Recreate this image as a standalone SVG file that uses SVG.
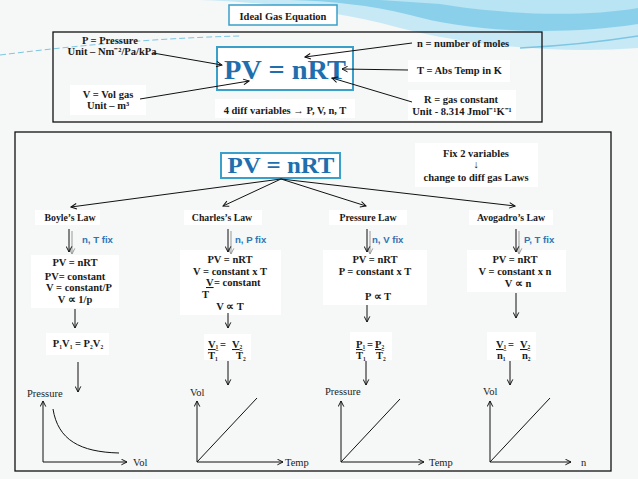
<svg xmlns="http://www.w3.org/2000/svg" width="638" height="479" viewBox="0 0 638 479">
<defs>
<style>
.b{font-family:"Liberation Serif",serif;font-weight:bold;font-size:10.5px;fill:#1a1a1a}
.lw{font-size:9.8px}
.r{font-family:"Liberation Serif",serif;font-size:10.5px;fill:#222}
.fix{font-family:"Liberation Sans",Arial,sans-serif;font-weight:bold;font-size:9.6px;fill:#2e75b6}
.pv{font-family:"Liberation Serif",serif;font-weight:bold;fill:#1f6fae}
.pvbox{fill:#fff;stroke:#3a9fc9;stroke-width:2}
.bg{fill:#fff}
.ln{stroke:#111;stroke-width:1;fill:none}
.frame{fill:none;stroke:#111;stroke-width:1.3}
.s{font-size:5.5px}
</style>
<marker id="v" viewBox="0 0 10 10" refX="9" refY="5" markerWidth="7" markerHeight="7" markerUnits="userSpaceOnUse" orient="auto">
<path d="M1,1 L9,5 L1,9" fill="none" stroke="#111" stroke-width="1.4"/>
</marker>
<marker id="vg" viewBox="0 0 10 10" refX="9" refY="5" markerWidth="7" markerHeight="7" markerUnits="userSpaceOnUse" orient="auto">
<path d="M1,1 L9,5 L1,9" fill="none" stroke="#999" stroke-width="1.4"/>
</marker>
</defs>
<rect width="638" height="479" fill="#f6f7f7"/>
<!-- background swoosh -->
<path d="M200,0 L638,0 L638,48 C560,54 470,46 400,28 C340,12 270,2 200,0 Z" fill="#c6e9f5"/>
<path d="M290,0 L638,0 L638,24 C560,36 470,32 410,15 C370,5 330,1 290,0 Z" fill="#8bd0ea"/>
<path d="M380,0 L638,0 L638,8 C580,18 500,14 440,4 Z" fill="#b8e4f3"/>
<path d="M0,55 C80,45 160,38 240,36" fill="none" stroke="#7cc6e3" stroke-width="1" stroke-dasharray="6,3"/>
<path d="M520,48 C560,46 600,42 638,36" fill="none" stroke="#7cc6e3" stroke-width="1.5"/>

<!-- title -->
<g id="title">
<rect x="229" y="5" width="108" height="20" fill="#fff" stroke="#3a9fc9" stroke-width="1.5"/>
<text class="b" x="283" y="19.5" text-anchor="middle" font-size="12.5">Ideal Gas Equation</text>
</g>

<!-- top frame -->
<rect class="frame" x="53" y="32" width="489" height="90"/>

<g id="top-pv">
<rect class="pvbox" x="217" y="47" width="136" height="43"/>
<text class="pv" x="285" y="79" text-anchor="middle" font-size="27" textLength="122" lengthAdjust="spacingAndGlyphs">PV = nRT</text>
</g>
<g id="lbl-p">
<text class="b" x="110" y="44" text-anchor="middle" font-size="9.8">P = Pressure</text>
<text class="b" x="112" y="55" text-anchor="middle" font-size="9.3">Unit – Nm⁻²/Pa/kPa</text>
</g>
<g id="lbl-v">
<rect class="bg" x="70" y="85" width="76" height="30"/>
<text class="b" x="108" y="98" text-anchor="middle">V = Vol gas</text>
<text class="b" x="108" y="109" text-anchor="middle">Unit – m³</text>
</g>
<g id="lbl-vars">
<rect class="bg" x="215" y="99" width="140" height="19"/>
<text class="b" x="285" y="114" text-anchor="middle" font-size="10.2">4 diff variables → P, V, n, T</text>
</g>
<g id="lbl-n">
<text class="b" x="417" y="47" font-size="10.8">n  = number of moles</text>
</g>
<g id="lbl-t">
<rect class="bg" x="408" y="60" width="102" height="22"/>
<text class="b" x="417" y="74" font-size="10.4">T  = Abs Temp in K</text>
</g>
<g id="lbl-r">
<rect class="bg" x="408" y="90" width="108" height="30"/>
<text class="b" x="461" y="103" text-anchor="middle" font-size="11">R =  gas constant</text>
<text class="b" x="462" y="115" text-anchor="middle" font-size="9.4">Unit - 8.314 Jmol⁻¹K⁻¹</text>
</g>

<g id="top-connectors">
<line class="ln" x1="153" y1="53" x2="222" y2="65" marker-end="url(#v)"/>
<line class="ln" x1="140" y1="99" x2="249" y2="81" marker-end="url(#v)"/>
<line class="ln" x1="412" y1="43" x2="305" y2="57" marker-end="url(#v)"/>
<line class="ln" x1="408" y1="70" x2="342" y2="69" marker-end="url(#v)"/>
<line class="ln" x1="412" y1="102" x2="332" y2="78" marker-end="url(#v)"/>
</g>

<!-- lower frame -->
<rect class="frame" x="15" y="132" width="596" height="339"/>

<g id="pv2">
<rect class="pvbox" x="221" y="153" width="119" height="25"/>
<text class="pv" x="281" y="173" text-anchor="middle" font-size="23" textLength="107" lengthAdjust="spacingAndGlyphs">PV = nRT</text>
</g>
<g id="fix2">
<rect class="bg" x="415" y="143" width="123" height="44"/>
<text class="b" x="476" y="157" text-anchor="middle" font-size="10">Fix 2 variables</text>
<text class="r" x="476" y="168" text-anchor="middle" font-size="8">↓</text>
<text class="b" x="476" y="181" text-anchor="middle" font-size="10">change to diff gas Laws</text>
</g>

<g id="boyle">
<rect class="bg" x="35" y="210" width="65" height="15"/>
<text class="b lw" x="70" y="221" text-anchor="middle">Boyle’s Law</text>
<text class="fix" x="82" y="243">n, T fix</text>
<rect class="bg" x="31" y="255" width="88" height="53"/>
<text class="b" x="75" y="266" text-anchor="middle">PV = nRT</text>
<text class="b" x="75" y="280" text-anchor="middle">PV= constant</text>
<text class="b" x="79" y="291" text-anchor="middle">V = constant/P</text>
<text class="b" x="75" y="303" text-anchor="middle">V ∝  1/p</text>
<rect class="bg" x="46" y="333" width="63" height="22"/>
<text class="b" x="78" y="347" text-anchor="middle">P<tspan class="s" dy="2">1</tspan><tspan dy="-2">V</tspan><tspan class="s" dy="2">1</tspan><tspan dy="-2"> = P</tspan><tspan class="s" dy="2">2</tspan><tspan dy="-2">V</tspan><tspan class="s" dy="2">2</tspan></text>
<text class="r" x="27" y="397">Pressure</text>
<text class="r" x="133" y="466">Vol</text>
<path class="ln" d="M53,409 C58,440 80,452 119,453"/>
</g>

<g id="charles">
<rect class="bg" x="184" y="210" width="78" height="15"/>
<text class="b lw" x="222" y="221" text-anchor="middle">Charles’s Law</text>
<text class="fix" x="235" y="243">n, P fix</text>
<rect class="bg" x="180" y="250" width="101" height="65"/>
<text class="b" x="230" y="263" text-anchor="middle">PV = nRT</text>
<text class="b" x="230" y="275" text-anchor="middle">V = constant x T</text>
<text class="b" x="206" y="286" text-decoration="underline">V</text>
<text class="b" x="214" y="286"> = constant</text>
<text class="b" x="202" y="298">T</text>
<text class="b" x="230" y="310" text-anchor="middle">V ∝  T</text>
<rect class="bg" x="204" y="334" width="47" height="26"/>
<text class="b" x="208" y="348" text-decoration="underline">V<tspan class="s" dy="1">1</tspan></text>
<text class="b" x="220" y="348">=</text>
<text class="b" x="232" y="348" text-decoration="underline">V<tspan class="s" dy="1">2</tspan></text>
<text class="b" x="208" y="359">T<tspan class="s" dy="2">1</tspan></text>
<text class="b" x="236" y="359">T<tspan class="s" dy="2">2</tspan></text>
<text class="r" x="190" y="396">Vol</text>
<text class="r" x="285" y="466">Temp</text>
<line class="ln" x1="197" y1="462" x2="257" y2="398"/>
</g>

<g id="pressure">
<rect class="bg" x="329" y="210" width="78" height="15"/>
<text class="b lw" x="368" y="221" text-anchor="middle">Pressure Law</text>
<text class="fix" x="372" y="243">n, V fix</text>
<rect class="bg" x="323" y="250" width="104" height="55"/>
<text class="b" x="375" y="263" text-anchor="middle">PV = nRT</text>
<text class="b" x="375" y="275" text-anchor="middle">P = constant x T</text>
<text class="b" x="378" y="300" text-anchor="middle">P ∝ T</text>
<rect class="bg" x="350" y="332" width="42" height="28"/>
<text class="b" x="356" y="348" text-decoration="underline">P<tspan class="s" dy="1">1</tspan></text>
<text class="b" x="367" y="348">=</text>
<text class="b" x="375" y="348" text-decoration="underline">P<tspan class="s" dy="1">2</tspan></text>
<text class="b" x="356" y="359">T<tspan class="s" dy="2">1</tspan></text>
<text class="b" x="376" y="359">T<tspan class="s" dy="2">2</tspan></text>
<text class="r" x="325" y="395">Pressure</text>
<text class="r" x="429" y="466">Temp</text>
<line class="ln" x1="341" y1="462" x2="400" y2="399"/>
</g>

<g id="avogadro">
<rect class="bg" x="469" y="210" width="84" height="15"/>
<text class="b lw" x="511" y="221" text-anchor="middle">Avogadro’s Law</text>
<text class="fix" x="524" y="243">P, T fix</text>
<rect class="bg" x="467" y="250" width="99" height="42"/>
<text class="b" x="515" y="263" text-anchor="middle">PV = nRT</text>
<text class="b" x="515" y="275" text-anchor="middle">V = constant x n</text>
<text class="b" x="518" y="287" text-anchor="middle">V ∝  n</text>
<rect class="bg" x="487" y="332" width="49" height="28"/>
<text class="b" x="496" y="348" text-decoration="underline">V<tspan class="s" dy="1">1</tspan></text>
<text class="b" x="508" y="348">=</text>
<text class="b" x="520" y="348" text-decoration="underline">V<tspan class="s" dy="1">2</tspan></text>
<text class="b" x="497" y="359">n<tspan class="s" dy="2">1</tspan></text>
<text class="b" x="522" y="359">n<tspan class="s" dy="2">2</tspan></text>
<text class="r" x="483" y="395">Vol</text>
<text class="r" x="581" y="466">n</text>
<line class="ln" x1="490" y1="462" x2="550" y2="398"/>
</g>

<g id="connectors">
<line class="ln" x1="281" y1="179" x2="71" y2="207" marker-end="url(#v)"/>
<line class="ln" x1="281" y1="179" x2="223" y2="206" marker-end="url(#v)"/>
<line class="ln" x1="281" y1="179" x2="366" y2="206" marker-end="url(#v)"/>
<line class="ln" x1="281" y1="179" x2="515" y2="206" marker-end="url(#v)"/>
<!-- double down arrows -->
<line x1="72" y1="231" x2="72" y2="254" stroke="#999" marker-end="url(#vg)"/>
<line class="ln" x1="69" y1="229" x2="69" y2="252" marker-end="url(#v)"/>
<line x1="231" y1="231" x2="231" y2="254" stroke="#999" marker-end="url(#vg)"/>
<line class="ln" x1="228" y1="229" x2="228" y2="252" marker-end="url(#v)"/>
<line x1="370" y1="231" x2="370" y2="254" stroke="#999" marker-end="url(#vg)"/>
<line class="ln" x1="367" y1="229" x2="367" y2="252" marker-end="url(#v)"/>
<line x1="519" y1="231" x2="519" y2="254" stroke="#999" marker-end="url(#vg)"/>
<line class="ln" x1="516" y1="229" x2="516" y2="252" marker-end="url(#v)"/>
<!-- box to equation -->
<line class="ln" x1="75" y1="309" x2="75" y2="328" marker-end="url(#v)"/>
<line class="ln" x1="228" y1="313" x2="228" y2="328" marker-end="url(#v)"/>
<line class="ln" x1="367" y1="305" x2="367" y2="322" marker-end="url(#v)"/>
<line class="ln" x1="516" y1="293" x2="516" y2="318" marker-end="url(#v)"/>
<!-- equation to graph -->
<line class="ln" x1="78" y1="362" x2="78" y2="392" marker-end="url(#v)"/>
<line class="ln" x1="228" y1="361" x2="228" y2="385" marker-end="url(#v)"/>
<line class="ln" x1="366" y1="361" x2="366" y2="385" marker-end="url(#v)"/>
<line class="ln" x1="510" y1="361" x2="510" y2="385" marker-end="url(#v)"/>
<!-- axes -->
<path class="ln" d="M43,462 L43,401" marker-end="url(#v)"/>
<path class="ln" d="M43,462 L127,462" marker-end="url(#v)"/>
<path class="ln" d="M197,462 L197,401" marker-end="url(#v)"/>
<path class="ln" d="M197,462 L283,462" marker-end="url(#v)"/>
<path class="ln" d="M341,462 L341,401" marker-end="url(#v)"/>
<path class="ln" d="M341,462 L424,462" marker-end="url(#v)"/>
<path class="ln" d="M490,462 L490,401" marker-end="url(#v)"/>
<path class="ln" d="M490,462 L571,462" marker-end="url(#v)"/>
</g>
</svg>
